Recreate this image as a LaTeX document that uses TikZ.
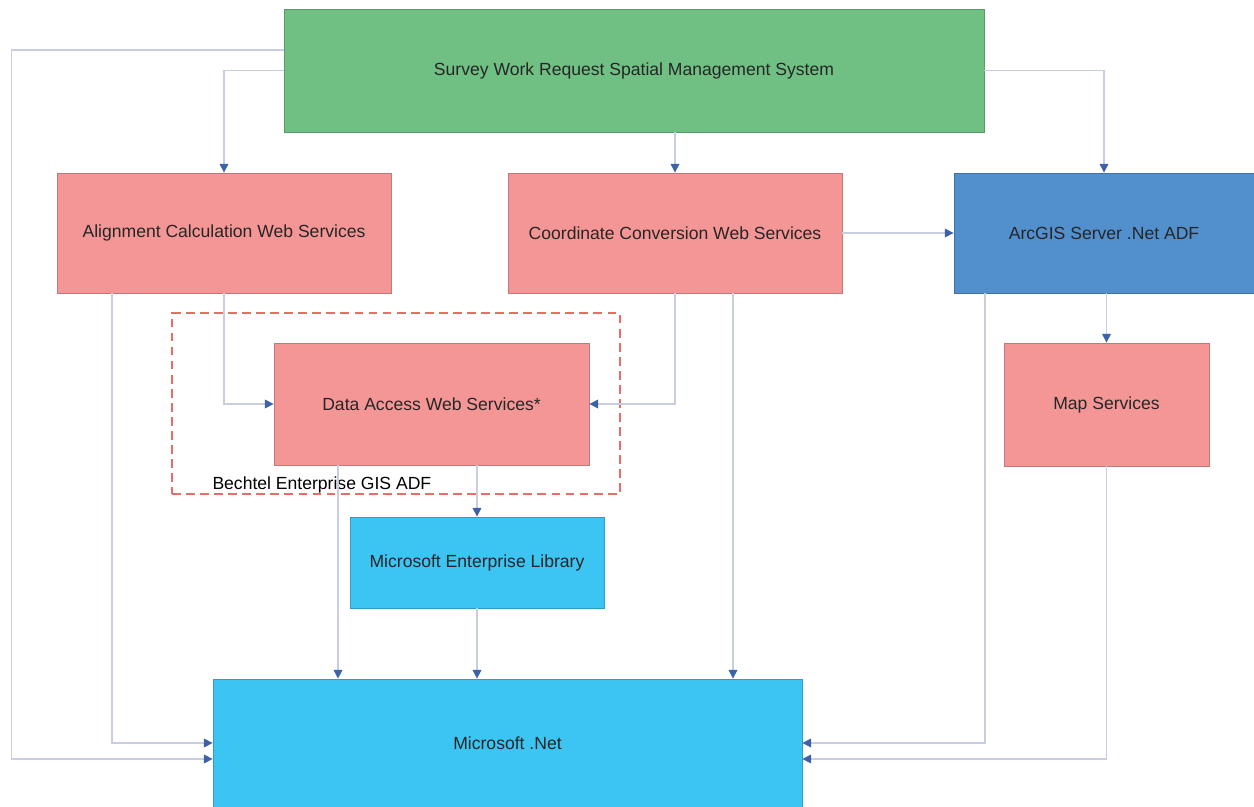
\documentclass[tikz,border=0pt]{standalone}
\usepackage{fontspec}
\setmainfont{Liberation Sans}
\usetikzlibrary{arrows.meta, positioning, fit, calc}

\definecolor{boxgreen}{RGB}{112,192,132}
\definecolor{boxpink}{RGB}{244,150,150}
\definecolor{boxblue}{RGB}{82,143,205}
\definecolor{boxcyan}{RGB}{60,196,242}
\definecolor{linegray}{RGB}{200,205,224}
\definecolor{tipblue}{RGB}{62,98,170}
\definecolor{dashred}{RGB}{230,110,100}

\begin{document}
\begin{tikzpicture}[
    x=0.02cm, y=-0.02cm,
    font=\fontsize{10}{12}\selectfont,
    block/.style={rectangle, draw=#1!80!black, fill=#1, line width=0.5pt, text=black!85, align=center, inner sep=0pt},
    arrow/.style={draw=linegray, line width=0.8pt, -{Triangle[width=5pt,length=5pt,color=tipblue]}},
    container/.style={rectangle, draw=dashred, dashed, dash pattern=on 5pt off 3pt, line width=1pt, inner sep=0pt}
]

\useasboundingbox (0,0) rectangle (1254,807);

% Nodes

\node[block=boxgreen, minimum width=14cm, minimum height=2.46cm] (survey) at (634,70.5) {Survey Work Request Spatial Management System};

\node[block=boxpink, minimum width=6.68cm, minimum height=2.4cm] (align) at (224,233) {Alignment Calculation Web Services};

\node[block=boxpink, minimum width=6.68cm, minimum height=2.4cm] (coord) at (675,233) {Coordinate Conversion Web Services};

\node[block=boxblue, minimum width=6cm, minimum height=2.4cm] (arcgis) at (1104,233) {ArcGIS Server .Net ADF};

% Dashed box for the Bechtel ADF

\node[container, minimum width=8.96cm, minimum height=3.62cm] (bechtel) at (396,403.5) {};
\node[anchor=base west, inner sep=0pt] (bechtel_label) at ([xshift=0.82cm, yshift=0.1cm]bechtel.south west) {Bechtel Enterprise GIS ADF};

\node[block=boxpink, minimum width=6.3cm, minimum height=2.44cm] (data) at (431.5,404) {Data Access Web Services*};

\node[block=boxpink, minimum width=4.1cm, minimum height=2.46cm] (map) at (1106.5,404.5) {Map Services};

\node[block=boxcyan, minimum width=5.08cm, minimum height=1.82cm] (entlib) at (477,562.5) {Microsoft Enterprise Library};

\node[block=boxcyan, minimum width=11.78cm, minimum height=2.56cm] (dotnet) at (507.5,743) {Microsoft .Net};

% Helper points for the parallel drops

\coordinate (align_out) at ([xshift=-2.24cm]align.south);
\coordinate (coord_out) at ([xshift=1.16cm]coord.south);
\coordinate (data_out) at ([xshift=-1.87cm]data.south);
\coordinate (arcgis_out) at ([xshift=-2.38cm]arcgis.south);

% Connectors from the top

\draw[arrow] ([yshift=0.41cm]survey.west) -- ++(-272,0) |- ([yshift=-0.32cm]dotnet.west);
\draw[arrow] (survey.west) -| (align.north);
\draw[arrow] (coord.north |- survey.south) -- (coord.north);
\draw[arrow] (survey.east) -| (arcgis.north);
\draw[arrow] (coord.east) -- (arcgis.west);

% Into the data access services

\draw[arrow] (align.south) |- (data.west);
\draw[arrow] (coord.south) |- (data.east);

% Down to Microsoft .Net

\draw[arrow] (align_out) |- (dotnet.west);
\draw[arrow] (coord_out) -- (coord_out |- dotnet.north);
\draw[arrow] (data_out) -- (data_out |- dotnet.north);
\draw[arrow] (entlib.north |- data.south) -- (entlib.north);
\draw[arrow] (entlib.south) -- (entlib.south |- dotnet.north);

% ArcGIS side

\draw[arrow] (map.north |- arcgis.south) -- (map.north);
\draw[arrow] (arcgis_out) |- (dotnet.east);
\draw[arrow] (map.south) |- ([yshift=-0.32cm]dotnet.east);

\end{tikzpicture}
\end{document}
